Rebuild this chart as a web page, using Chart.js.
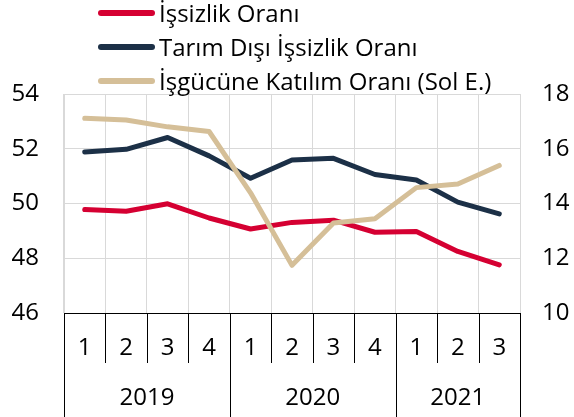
<!DOCTYPE html>
<html><head><meta charset="utf-8">
<script src="https://cdn.jsdelivr.net/npm/chart.js@4"></script>
<style>
html,body{margin:0;padding:0;background:#fff;}
#wrap{position:relative;width:574px;height:417px;overflow:hidden;}
#c{position:absolute;left:0;top:0;}
#legend{position:absolute;left:98px;top:0;font-family:'Open Sans';font-size:24px;color:#000;}
.item{position:absolute;left:0;white-space:nowrap;display:flex;align-items:center;height:30px;line-height:30px;}
.sw{width:57px;height:6px;border-radius:3px;margin-right:4px;flex:none;}
</style></head>
<body>
<div id="wrap">
<canvas id="c" width="574" height="417"></canvas>
<div id="legend"></div>
</div>
<script>
const quarters = ['1','2','3','4','1','2','3','4','1','2','3'];
const years = ['2019','2020','2021'];
const yearSpans = [4,4,3];
const seriesNames = ['İşsizlik Oranı','Tarım Dışı İşsizlik Oranı','İşgücüne Katılım Oranı (Sol E.)'];
const unemployment = [13.78,13.72,13.99,13.47,13.07,13.31,13.39,12.95,12.98,12.25,11.76];
const nonfarmUnemployment = [15.88,15.98,16.41,15.74,14.92,15.59,15.65,15.06,14.86,14.05,13.62];
const participation = [53.11,53.05,52.80,52.63,50.39,47.74,49.29,49.44,50.58,50.71,51.39];
const colors = ['#d50032','#1c3047','#d5bf98'];

Chart.defaults.font.family = "'Open Sans'";
Chart.defaults.color = '#000';

// HTML legend
const leg = document.getElementById('legend');
const centers = [13,47,81];
seriesNames.forEach((n,i)=>{
  const d = document.createElement('div');
  d.className='item';
  d.style.top=(centers[i]-15)+'px';
  d.innerHTML='<span class="sw" style="background:'+colors[i]+'"></span><span>'+n+'</span>';
  leg.appendChild(d);
});

const groupPlugin = {
  id:'groups',
  afterDraw(chart){
    const x = chart.scales.x, ca = chart.chartArea, ctx = chart.ctx;
    const n = quarters.length;
    const bound = i => i===0 ? ca.left : (i===n ? ca.right : (x.getPixelForValue(i-1)+x.getPixelForValue(i))/2);
    const yearBounds = [0];
    yearSpans.forEach(s=>yearBounds.push(yearBounds[yearBounds.length-1]+s));
    ctx.save();
    ctx.strokeStyle='#000';
    ctx.lineWidth=1;
    for(let i=0;i<=n;i++){
      const bx = Math.round(bound(i))+0.5;
      const isYear = yearBounds.includes(i);
      ctx.beginPath();
      ctx.moveTo(bx, ca.bottom);
      ctx.lineTo(bx, isYear ? chart.height : ca.bottom+50);
      ctx.stroke();
    }
    ctx.font = "24px 'Open Sans'";
    ctx.fillStyle='#000';
    ctx.textAlign='center';
    ctx.textBaseline='middle';
    years.forEach((y,k)=>{
      const cx = (bound(yearBounds[k])+bound(yearBounds[k+1]))/2;
      ctx.fillText(y, cx, 398);
    });
    ctx.restore();
  }
};

new Chart(document.getElementById('c'), {
  type:'line',
  data:{
    labels: quarters,
    datasets:[
      {label:seriesNames[0], data:unemployment, yAxisID:'y1', borderColor:colors[0], backgroundColor:colors[0], order:2},
      {label:seriesNames[1], data:nonfarmUnemployment, yAxisID:'y1', borderColor:colors[1], backgroundColor:colors[1], order:1},
      {label:seriesNames[2], data:participation, yAxisID:'y', borderColor:colors[2], backgroundColor:colors[2], order:0}
    ]
  },
  options:{
    responsive:false,
    animation:false,
    layout:{padding:{top:94,bottom:0,left:0,right:0}},
    elements:{
      line:{borderWidth:5, tension:0, borderCapStyle:'round', borderJoinStyle:'round'},
      point:{radius:0, hoverRadius:0}
    },
    plugins:{legend:{display:false}, tooltip:{enabled:false}},
    scales:{
      x:{
        offset:true,
        grid:{offset:true, color:'#d9d9d9', drawTicks:false},
        border:{display:true, color:'#000', width:1},
        ticks:{font:{size:24}, padding:21, color:'#000', maxRotation:0, autoSkip:false},
        afterFit:s=>{s.height=104;}
      },
      y:{
        position:'left', min:46, max:54,
        ticks:{stepSize:2, font:{size:24}, padding:25, color:'#000'},
        grid:{color:'#d9d9d9', drawTicks:false},
        border:{display:true, color:'#d9d9d9'},
        afterFit:s=>{s.width=64;}
      },
      y1:{
        position:'right', min:10, max:18,
        ticks:{stepSize:2, font:{size:24}, padding:22, color:'#000'},
        grid:{display:false, drawTicks:false},
        border:{display:false},
        afterFit:s=>{s.width=54;}
      }
    }
  },
  plugins:[groupPlugin]
});
</script>
</body></html>
